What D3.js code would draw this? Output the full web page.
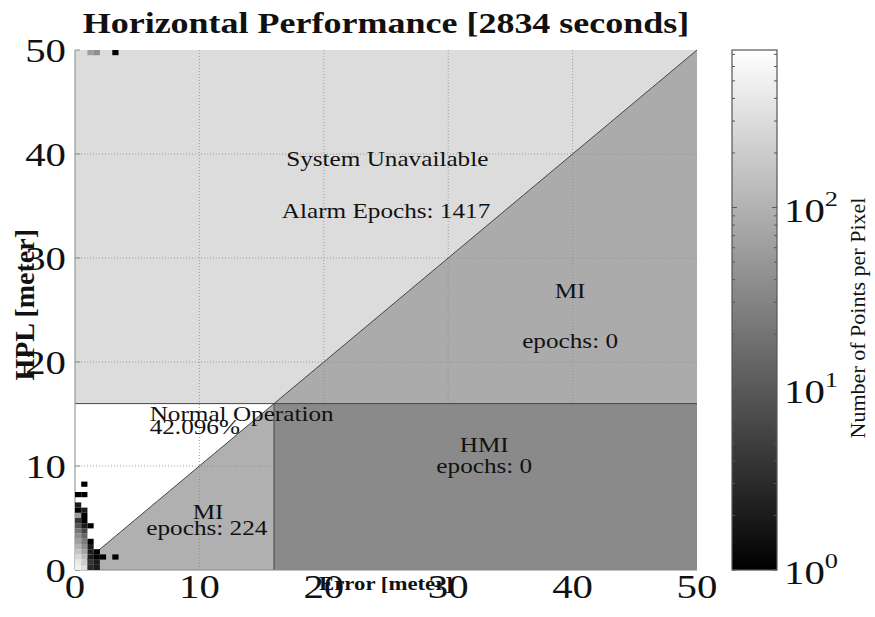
<!DOCTYPE html>
<html>
<head>
<meta charset="utf-8">
<script src="https://cdn.jsdelivr.net/npm/d3@7"></script>
<style>
  body { margin: 0; background: #fff; }
  text { font-family: "Liberation Serif", "Times New Roman", serif; }
</style>
</head>
<body>
<svg id="chart" width="875" height="617"></svg>
<script>
// data
var totalSeconds = 2834,
    alarmLimit = 16,
    axisMax = 50,
    xTicks = [0, 10, 20, 30, 40, 50],
    yTicks = [0, 10, 20, 30, 40, 50],
    colorTicks = [1, 10, 100],
    colorMax = 740;

var alarmEpochs = 1417,
    miUpperEpochs = 0,
    hmiEpochs = 0,
    miLowerEpochs = 224,
    normalPercent = "42.096";

// histogram pixels: [error bin start, hpl bin start, count], bin = 0.5 m
var binSize = 0.5;
var cells = [
  [0, 0, 520], [0.5, 0, 320], [1.0, 0, 3], [1.5, 0, 2],
  [0, 0.5, 420], [0.5, 0.5, 210], [1.0, 0.5, 4], [1.5, 0.5, 2], [2.0, 1.0, 1],
  [0, 1.0, 260], [0.5, 1.0, 120], [1.0, 1.0, 2], [1.5, 1.0, 1], [3.0, 1.0, 1],
  [0, 1.5, 160], [0.5, 1.5, 70], [1.0, 1.5, 2], [1.5, 1.5, 1],
  [0, 2.0, 100], [0.5, 2.0, 40], [1.0, 2.0, 2],
  [0, 2.5, 60], [0.5, 2.5, 25], [1.0, 2.5, 1],
  [0, 3.0, 40], [0.5, 3.0, 14],
  [0, 3.5, 22], [0.5, 3.5, 6],
  [0, 4.0, 9], [0.5, 4.0, 2], [1.0, 4.0, 1],
  [0, 4.5, 4], [0.5, 4.5, 1],
  [0, 5.0, 60], [0.5, 5.0, 1],
  [0, 5.5, 1], [0.5, 5.5, 2],
  [0, 6.0, 2],
  [0, 7.0, 1], [0.5, 7.0, 1],
  [0.5, 8.0, 1],
  [1.0, 49.5, 60], [1.5, 49.5, 40], [3.0, 49.5, 1]
];

var svg = d3.select("#chart");
var stretch = 1.2;

var x = d3.scaleLinear().domain([0, axisMax]).range([75, 697]);
var y = d3.scaleLinear().domain([0, axisMax]).range([570, 50]);
var cy = d3.scaleLog().domain([1, colorMax]).range([570, 50]);
var gray = d3.scaleLog().domain([1, colorMax]).range(["#000", "#fff"]).clamp(true);

function addText(g, str, px, py, size, anchor, weight) {
  return g.append("text")
    .attr("transform", "translate(" + px + "," + py + ") scale(" + stretch + ",1)")
    .attr("text-anchor", anchor || "start")
    .attr("font-size", size)
    .attr("font-weight", weight || "normal")
    .attr("fill", "#111")
    .text(str);
}

function poly(pts) {
  return "M" + pts.map(function(p) { return x(p[0]) + "," + y(p[1]); }).join("L") + "Z";
}

// regions
var A = alarmLimit, M = axisMax;
var regions = [
  {pts: [[0, A], [A, A], [M, M], [0, M]], fill: "#dcdcdc"},
  {pts: [[A, A], [M, A], [M, M]], fill: "#ababab"},
  {pts: [[0, 0], [A, A], [0, A]], fill: "#ffffff"},
  {pts: [[0, 0], [A, 0], [A, A]], fill: "#b0b0b0"},
  {pts: [[A, 0], [M, 0], [M, A], [A, A]], fill: "#8a8a8a"}
];
var plot = svg.append("g");
plot.selectAll(".region").data(regions).enter().append("path")
  .attr("class", "region")
  .attr("d", function(d) { return poly(d.pts); })
  .attr("fill", function(d) { return d.fill; });

// grid
plot.selectAll(".gx").data(xTicks.slice(1, -1)).enter().append("line")
  .attr("x1", function(d) { return x(d); }).attr("x2", function(d) { return x(d); })
  .attr("y1", y(0)).attr("y2", y(M))
  .attr("stroke", "#8c8c8c").attr("stroke-width", 0.8).attr("stroke-dasharray", "1,2");
plot.selectAll(".gy").data(yTicks.slice(1, -1)).enter().append("line")
  .attr("y1", function(d) { return y(d); }).attr("y2", function(d) { return y(d); })
  .attr("x1", x(0)).attr("x2", x(M))
  .attr("stroke", "#8c8c8c").attr("stroke-width", 0.8).attr("stroke-dasharray", "1,2");

// boundaries
var edges = [[[0, A], [M, A]], [[A, 0], [A, A]], [[0, 0], [M, M]]];
plot.selectAll(".edge").data(edges).enter().append("line")
  .attr("x1", function(d) { return x(d[0][0]); }).attr("y1", function(d) { return y(d[0][1]); })
  .attr("x2", function(d) { return x(d[1][0]); }).attr("y2", function(d) { return y(d[1][1]); })
  .attr("stroke", "#444").attr("stroke-width", 1);

// axes lines
plot.append("line").attr("x1", x(0)).attr("x2", x(0)).attr("y1", y(0)).attr("y2", y(M))
  .attr("stroke", "#888");
plot.append("line").attr("x1", x(0)).attr("x2", x(M)).attr("y1", y(0)).attr("y2", y(0))
  .attr("stroke", "#888");
plot.selectAll(".ty").data(yTicks).enter().append("line")
  .attr("x1", x(0)).attr("x2", x(0) + 5)
  .attr("y1", function(d) { return y(d); }).attr("y2", function(d) { return y(d); })
  .attr("stroke", "#888");

// histogram cells
plot.selectAll(".cell").data(cells).enter().append("rect")
  .attr("x", function(d) { return x(d[0]); })
  .attr("y", function(d) { return y(d[1] + binSize); })
  .attr("width", x(binSize) - x(0))
  .attr("height", y(0) - y(binSize))
  .attr("fill", function(d) { return gray(d[2]); });

// region text
var notes = svg.append("g");
addText(notes, "System Unavailable", x(25.1), y(38.8), 21, "middle");
addText(notes, "Alarm Epochs: " + alarmEpochs, x(25.0), y(33.8), 21, "middle");
addText(notes, "MI", x(39.8), y(26.2), 21, "middle");
addText(notes, "epochs: " + miUpperEpochs, x(39.8), y(21.3), 21, "middle");
addText(notes, "Normal Operation", x(6.0), y(14.3), 21, "start");
addText(notes, normalPercent + "%", x(6.0), y(13.1), 21, "start");
addText(notes, "HMI", x(32.9), y(11.3), 21, "middle");
addText(notes, "epochs: " + hmiEpochs, x(32.9), y(9.3), 21, "middle");
addText(notes, "MI", x(10.7), y(4.9), 21, "middle");
addText(notes, "epochs: " + miLowerEpochs, x(10.6), y(3.4), 21, "middle");

// tick labels
var ax = svg.append("g");
xTicks.forEach(function(t) { addText(ax, t, x(t), 598, 34, "middle"); });
yTicks.forEach(function(t) { addText(ax, t, 66, y(t) + 12, 34, "end"); });

// axis titles and title
addText(ax, "Error [meter]", x(25), 590, 19, "middle", "bold");
ax.append("text")
  .attr("transform", "translate(34," + y(25.5) + ") rotate(-90)")
  .attr("text-anchor", "middle").attr("font-size", 28).attr("font-weight", "bold")
  .attr("fill", "#111").text("HPL [meter]");
addText(svg, "Horizontal Performance [" + totalSeconds + " seconds]", 386, 33, 30, "middle", "bold");

// colorbar
var defs = svg.append("defs");
var grad = defs.append("linearGradient").attr("id", "cbar")
  .attr("x1", 0).attr("y1", 1).attr("x2", 0).attr("y2", 0);
grad.append("stop").attr("offset", 0).attr("stop-color", "#000");
grad.append("stop").attr("offset", 1).attr("stop-color", "#fff");
var cb = svg.append("g");
var cbL = 732, cbR = 777;
cb.append("rect").attr("x", cbL).attr("y", cy(colorMax)).attr("width", cbR - cbL)
  .attr("height", cy(1) - cy(colorMax)).attr("fill", "url(#cbar)")
  .attr("stroke", "#555").attr("stroke-width", 1.2);
var minor = [];
[1, 10, 100].forEach(function(dec) {
  for (var k = 1; k < 10; k++) { if (dec * k <= colorMax) minor.push(dec * k); }
});
cb.selectAll(".cl").data(minor).enter().append("line")
  .attr("x1", cbL).attr("x2", function(d) { return cbL + (colorTicks.indexOf(d) >= 0 ? 5 : 3); })
  .attr("y1", function(d) { return cy(d); }).attr("y2", function(d) { return cy(d); })
  .attr("stroke", "#555");
cb.selectAll(".cr").data(minor).enter().append("line")
  .attr("x1", cbR).attr("x2", function(d) { return cbR - (colorTicks.indexOf(d) >= 0 ? 5 : 3); })
  .attr("y1", function(d) { return cy(d); }).attr("y2", function(d) { return cy(d); })
  .attr("stroke", "#555");
colorTicks.forEach(function(t) {
  var lab = cb.append("text")
    .attr("transform", "translate(784," + (cy(t) + 14) + ") scale(" + stretch + ",1)")
    .attr("font-size", 34).attr("fill", "#111");
  lab.append("tspan").text("10");
  lab.append("tspan").attr("dy", -16).attr("font-size", 22).text(Math.round(Math.log10(t)));
});
cb.append("text")
  .attr("transform", "translate(865,318) rotate(-90)")
  .attr("text-anchor", "middle").attr("font-size", 22).attr("fill", "#111")
  .text("Number of Points per Pixel");
</script>
</body>
</html>
